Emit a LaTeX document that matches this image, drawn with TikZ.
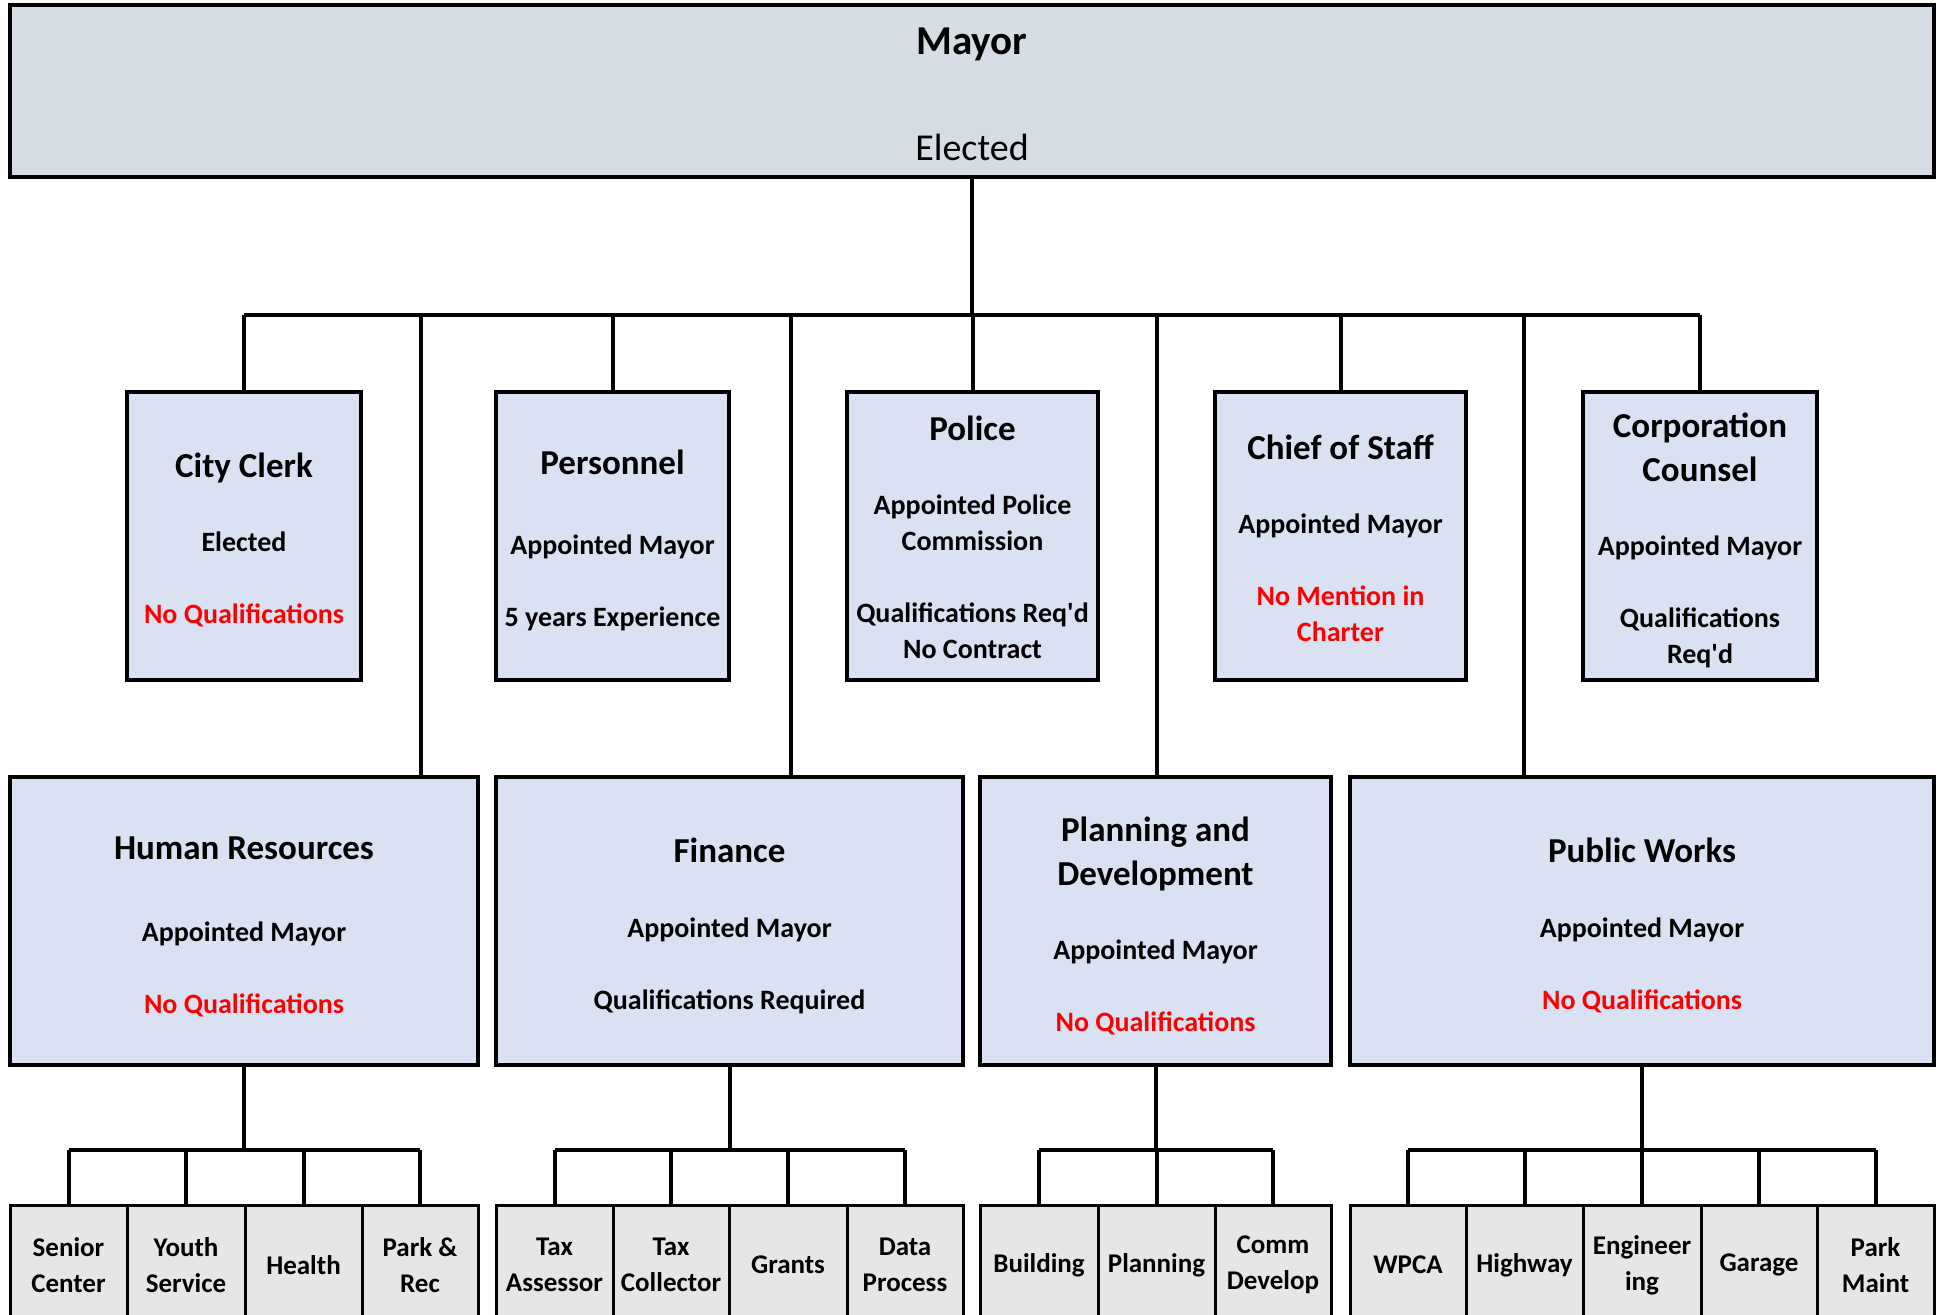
\documentclass[tikz,border=0pt]{standalone}
\usepackage{fontspec}
\setmainfont{Carlito}
\usetikzlibrary{calc}
\definecolor{mayorfill}{HTML}{D6DCE4}
\definecolor{boxfill}{HTML}{DAE1F3}
\definecolor{cellfill}{HTML}{E7E6E6}
\definecolor{redtxt}{HTML}{FF0000}
% #1 name, #2-#5 corners (px), #6 style family, #7 text, #8 text shift down (px)
\newcommand\orgbox[8]{%
  \node[#6box,minimum width={(#4-#2)*0.5pt},minimum height={(#5-#3)*0.5pt}] (#1) at ({(#2+#4)/2},{(#3+#5)/2}) {};
  \node[#6txt] (#1t) at ([yshift={-(#8)*0.5pt}]#1.center) {#7};}
\newcommand\ttl[1]{{\fontsize{17.5}{18}\selectfont #1}}
\newcommand\rd[1]{\textcolor{redtxt}{#1}}
\begin{document}
\begin{tikzpicture}[x=0.5pt,y=-0.5pt,
  basebox/.style={draw=black,line width=1.75pt,inner sep=0pt,outer sep=0pt},
  basetxt/.style={inner sep=0pt,outer sep=0pt,align=center},
  mayorbox/.style={basebox,line width=2pt,fill=mayorfill},
  mayortxt/.style={basetxt,font=\fontsize{19}{25}\selectfont},
  unitbox/.style={basebox,fill=boxfill},
  unittxt/.style={basetxt,font=\fontsize{14}{18}\selectfont\bfseries},
  cellbox/.style={basebox,line width=1.5pt,fill=cellfill},
  celltxt/.style={basetxt,font=\fontsize{13.5}{18}\selectfont\bfseries},
  conn/.style={draw=black,line width=2pt}]
\useasboundingbox (0,0) rectangle (1938,1314);
% Mayor
\orgbox{mayor}{10}{5}{1934}{177}{mayor}{{\fontsize{20.5}{25}\selectfont\bfseries Mayor}\\[28pt]Elected}{3}
% top row
\orgbox{cc}{127}{392}{361}{680}{unit}{\ttl{City Clerk}\\[19pt]Elected\\[18pt]\rd{No Qualifications}}{4}
\orgbox{pers}{496}{392}{729}{680}{unit}{\ttl{Personnel}\\[22pt]Appointed Mayor\\[18pt]5 years Experience}{4}
\orgbox{pol}{847}{392}{1098}{680}{unit}{\ttl{Police}\\[19pt]Appointed Police\\Commission\\[18pt]Qualifications Req\textquotesingle d\\No Contract}{1.5}
\orgbox{cos}{1215}{392}{1466}{680}{unit}{\ttl{Chief of Staff}\\[19pt]Appointed Mayor\\[18pt]\rd{No Mention in}\\\rd{Charter}}{2.5}
\orgbox{corp}{1583}{392}{1817}{680}{unit}{\ttl{Corporation}\\[4pt]\ttl{Counsel}\\[19pt]Appointed Mayor\\[18pt]Qualifications\\Req\textquotesingle d}{4}
% second row
\orgbox{hr}{10}{777}{478}{1065}{unit}{\ttl{Human Resources}\\[23pt]Appointed Mayor\\[18pt]\rd{No Qualifications}}{5.5}
\orgbox{fin}{496}{777}{963}{1065}{unit}{\ttl{Finance}\\[19.5pt]Appointed Mayor\\[18pt]Qualifications Required}{4.5}
\orgbox{pd}{980}{777}{1331}{1065}{unit}{\ttl{Planning and}\\[4pt]\ttl{Development}\\[19pt]Appointed Mayor\\[18pt]\rd{No Qualifications}}{5}
\orgbox{pw}{1350}{777}{1934}{1065}{unit}{\ttl{Public Works}\\[19.5pt]Appointed Mayor\\[18pt]\rd{No Qualifications}}{4.5}
% bottom cells
\orgbox{sc}{10}{1205}{127}{1325}{cell}{Senior\\Center}{0}
\orgbox{ys}{127}{1205}{245}{1325}{cell}{Youth\\Service}{0}
\orgbox{hl}{245}{1205}{362}{1325}{cell}{Health}{0}
\orgbox{pr}{362}{1205}{478}{1325}{cell}{Park \&\\Rec}{0}
\orgbox{ta}{496}{1205}{613}{1325}{cell}{Tax\\Assessor}{0}
\orgbox{tc}{613}{1205}{729}{1325}{cell}{Tax\\Collector}{0}
\orgbox{gr}{729}{1205}{847}{1325}{cell}{Grants}{0}
\orgbox{dp}{847}{1205}{963}{1325}{cell}{Data\\Process}{0}
\orgbox{bd}{980}{1205}{1098}{1325}{cell}{Building}{0}
\orgbox{pl}{1098}{1205}{1215}{1325}{cell}{Planning}{0}
\orgbox{cd}{1215}{1205}{1331}{1325}{cell}{Comm\\Develop}{0}
\orgbox{wp}{1350}{1205}{1466}{1325}{cell}{WPCA}{0}
\orgbox{hw}{1466}{1205}{1583}{1325}{cell}{Highway}{0}
\orgbox{en}{1583}{1205}{1701}{1325}{cell}{Engineer\\ing}{0}
\orgbox{ga}{1701}{1205}{1817}{1325}{cell}{Garage}{0}
\orgbox{pm}{1817}{1205}{1934}{1325}{cell}{Park\\Maint}{0}
% main bus
\coordinate (bus) at (0,315);
\draw[conn] (mayor.south) -- (mayor.south |- bus);
\draw[conn] (cc.north |- bus) -- (corp.north |- bus);
\foreach \n in {cc,pers,pol,cos,corp} \draw[conn] (\n.north |- bus) -- (\n.north);
\coordinate (dhr) at (421,315);
\coordinate (dfin) at (791,315);
\coordinate (dpd) at (1157,315);
\coordinate (dpw) at (1524,315);
\draw[conn] (dhr) -- (dhr |- hr.north);
\draw[conn] (dfin) -- (dfin |- fin.north);
\draw[conn] (dpd) -- (dpd |- pd.north);
\draw[conn] (dpw) -- (dpw |- pw.north);
% sub buses
\coordinate (sbus) at (0,1150);
\draw[conn] (hr.south) -- (hr.south |- sbus);
\draw[conn] (sc.north |- sbus) -- (pr.north |- sbus);
\foreach \n in {sc,ys,hl,pr} \draw[conn] (\n.north |- sbus) -- (\n.north);
\draw[conn] (fin.south) -- (fin.south |- sbus);
\draw[conn] (ta.north |- sbus) -- (dp.north |- sbus);
\foreach \n in {ta,tc,gr,dp} \draw[conn] (\n.north |- sbus) -- (\n.north);
\draw[conn] (pd.south) -- (pd.south |- sbus);
\draw[conn] (bd.north |- sbus) -- (cd.north |- sbus);
\foreach \n in {bd,pl,cd} \draw[conn] (\n.north |- sbus) -- (\n.north);
\draw[conn] (pw.south) -- (pw.south |- sbus);
\draw[conn] (wp.north |- sbus) -- (pm.north |- sbus);
\foreach \n in {wp,hw,en,ga,pm} \draw[conn] (\n.north |- sbus) -- (\n.north);
\end{tikzpicture}
\end{document}
